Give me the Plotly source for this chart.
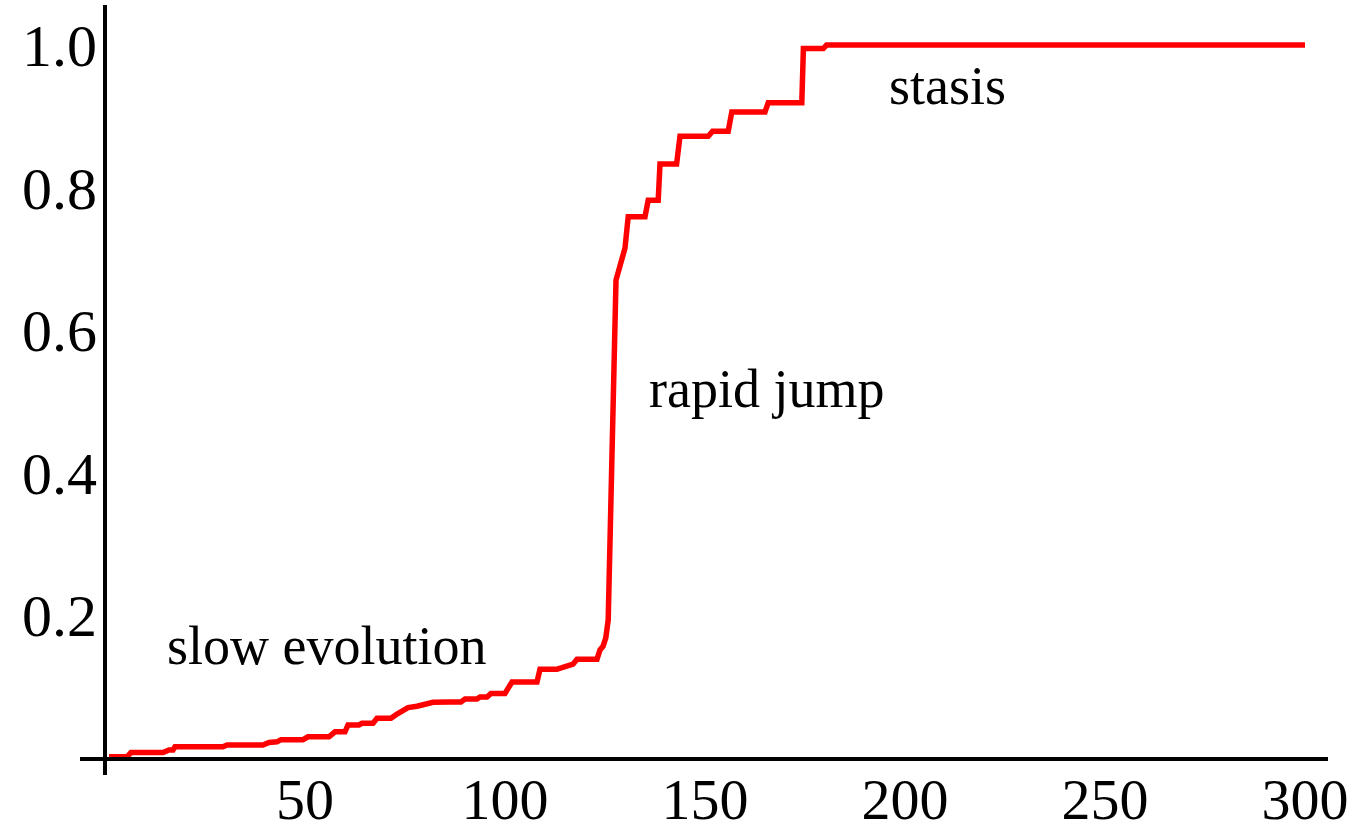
import plotly.graph_objects as go

# Curve data
x_vals = [1, 5.5, 6.5, 14.5, 16, 17, 17.5, 29.5, 30.5, 39.5, 41, 43, 44, 49.5, 50.75, 56,
          57.5, 60, 60.75, 63.5, 64.25, 67, 68, 71.5, 73, 75.75, 78, 82, 86.25, 89, 90, 93,
          93.75, 95.5, 96.5, 100, 101.75, 108, 108.75, 113, 114.25, 115.75, 117, 118, 123,
          123.75, 124.5, 125.2, 125.8, 127.75, 128.75, 130, 130.8, 135, 135.8, 138.3, 138.75,
          142.9, 143.75, 150.8, 151.9, 155.8, 156.7, 165, 165.8, 174.2, 174.6, 179.6, 180.4, 300]
y_vals = [0.001, 0.001, 0.007, 0.007, 0.0105, 0.0105, 0.015, 0.015, 0.0175, 0.0175, 0.021,
          0.022, 0.025, 0.025, 0.029, 0.029, 0.036, 0.036, 0.0456, 0.0456, 0.048, 0.048,
          0.055, 0.055, 0.061, 0.070, 0.072, 0.0775, 0.078, 0.078, 0.082, 0.082, 0.085,
          0.085, 0.09, 0.09, 0.106, 0.106, 0.124, 0.124, 0.126, 0.128, 0.131, 0.138, 0.138,
          0.151, 0.156, 0.168, 0.193, 0.670, 0.689, 0.715, 0.759, 0.759, 0.782, 0.782, 0.833,
          0.833, 0.872, 0.872, 0.879, 0.879, 0.906, 0.906, 0.919, 0.919, 0.995, 0.995, 1.0, 1.0]

x_ticks = [50, 100, 150, 200, 250, 300]
x_tick_labels = ["50", "100", "150", "200", "250", "300"]
y_ticks = [0.2, 0.4, 0.6, 0.8, 1.0]
y_tick_labels = ["0.2", "0.4", "0.6", "0.8", "1.0"]

labels = ["slow evolution", "rapid jump", "stasis"]
label_x = [55.6, 165.4, 210.6]
label_y = [0.156, 0.517, 0.943]

FONT = "Liberation Serif, Times New Roman, serif"

fig = go.Figure()
fig.add_trace(go.Scatter(x=x_vals, y=y_vals, mode="lines",
                         line=dict(color="#ff0000", width=5.5), hoverinfo="skip",
                         showlegend=False))

for t, lx, ly in zip(labels, label_x, label_y):
    fig.add_annotation(x=lx, y=ly, text=t, showarrow=False, xanchor="center",
                       yanchor="middle", font=dict(family=FONT, size=54, color="black"))

W, H = 1357, 831
L, R, T, B = 80, 29, 5, 56
pw, ph = W - L - R, H - T - B
x0_px, y0_px = 105, 757.5
xpx, ypx = 4.0, 712.5
x_range = [(L - x0_px) / xpx, (W - R - x0_px) / xpx]
y_range = [(y0_px - (H - B)) / ypx, (y0_px - T) / ypx]

fig.update_layout(
    width=W, height=H,
    margin=dict(l=L, r=R, t=T, b=B, pad=0, autoexpand=False),
    paper_bgcolor="white", plot_bgcolor="white",
    xaxis=dict(range=x_range, anchor="free", position=((H - B) - 759) / ph,
               automargin=False,
               showline=True, linecolor="black", linewidth=4, showgrid=False,
               zeroline=False, ticks="", tickvals=x_ticks, ticktext=x_tick_labels,
               tickfont=dict(family=FONT, size=58, color="black"), ticklabelstandoff=-12),
    yaxis=dict(range=y_range, anchor="free", position=(x0_px - L) / pw,
               automargin=False,
               showline=True, linecolor="black", linewidth=4, showgrid=False,
               zeroline=False, ticks="", tickvals=y_ticks, ticktext=y_tick_labels,
               tickfont=dict(family=FONT, size=60, color="black"), ticklabelstandoff=-6),
)

fig.write_html(
    "out.html",
    config={"displayModeBar": False},
    post_script="document.body.style.margin='0';document.body.style.padding='0';"
                "document.body.style.overflow='hidden';",
)
